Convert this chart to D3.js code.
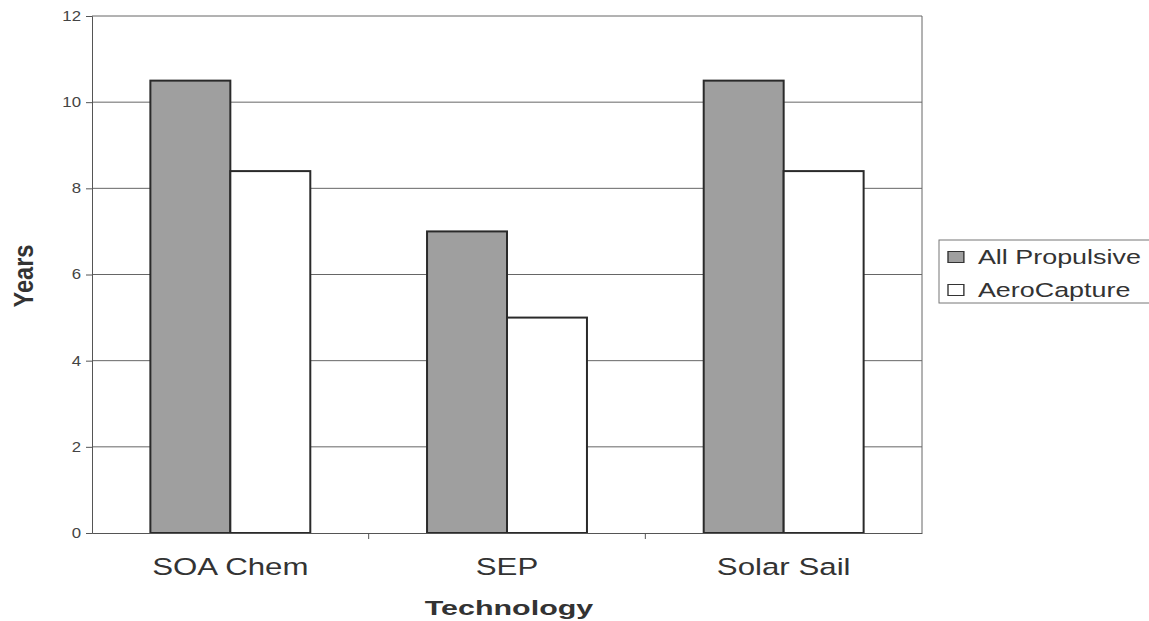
<!DOCTYPE html>
<html>
<head>
<meta charset="utf-8">
<script src="https://cdn.jsdelivr.net/npm/d3@7"></script>
<style>
  body { margin: 0; background: #fff; }
  text { font-family: "Liberation Sans", Arial, sans-serif; }
</style>
</head>
<body>
<div id="chart"></div>
<script>
const categories = ["SOA Chem", "SEP", "Solar Sail"];
const seriesNames = ["All Propulsive", "AeroCapture"];
const allPropulsive = [10.5, 7, 10.5];
const aeroCapture = [8.4, 5, 8.4];
const yTicks = [0, 2, 4, 6, 8, 10, 12];

const W = 1149, H = 621;
const plot = { left: 92, right: 922, top: 16, bottom: 533 };
const fills = ["#9f9f9f", "#ffffff"];
// the scanned original is stretched sideways, so the text is too
const stretch = 1.36;

const svg = d3.select("#chart").append("svg")
  .attr("width", W)
  .attr("height", H);

const x = d3.scaleBand()
  .domain(categories)
  .range([plot.left, plot.right])
  .paddingInner(0)
  .paddingOuter(0);

const inner = d3.scaleBand()
  .domain(seriesNames)
  .range([0, x.bandwidth()])
  .paddingOuter(0.73)
  .paddingInner(0);

const y = d3.scaleLinear()
  .domain([0, 12])
  .range([plot.bottom, plot.top]);

// gridlines
svg.append("g")
  .selectAll("line")
  .data(yTicks.filter(d => d > 0))
  .enter()
  .append("line")
  .attr("x1", plot.left)
  .attr("x2", plot.right)
  .attr("y1", d => y(d))
  .attr("y2", d => y(d))
  .attr("stroke", "#666")
  .attr("stroke-width", 1);

// right border
svg.append("line")
  .attr("x1", plot.right).attr("x2", plot.right)
  .attr("y1", plot.top).attr("y2", plot.bottom)
  .attr("stroke", "#666");

// bars
const rows = categories.map((c, i) => ({ cat: c, values: [allPropulsive[i], aeroCapture[i]] }));

svg.append("g")
  .selectAll("g")
  .data(rows)
  .enter()
  .append("g")
  .attr("transform", d => `translate(${x(d.cat)},0)`)
  .selectAll("rect")
  .data(d => d.values.map((v, k) => ({ key: seriesNames[k], k, v })))
  .enter()
  .append("rect")
  .attr("x", d => inner(d.key))
  .attr("width", inner.bandwidth())
  .attr("y", d => y(d.v))
  .attr("height", d => y(0) - y(d.v))
  .attr("fill", d => fills[d.k])
  .attr("stroke", "#2a2a2a")
  .attr("stroke-width", 2);

// y axis
const yAxis = svg.append("g")
  .attr("transform", `translate(${plot.left},0)`)
  .call(d3.axisLeft(y).tickValues(yTicks).tickSize(6).tickPadding(5));
yAxis.select(".domain").attr("stroke", "#555");
yAxis.selectAll(".tick line").attr("stroke", "#555");
yAxis.selectAll("text")
  .attr("x", -11 / 1.2)
  .attr("transform", "scale(1.2,1)")
  .attr("fill", "#444")
  .style("font-size", "14px")
  .style("font-family", "Liberation Sans, Arial, sans-serif");

// x axis
const xAxis = svg.append("g")
  .attr("transform", `translate(0,${plot.bottom})`)
  .call(d3.axisBottom(x).tickSize(0));
xAxis.select(".domain").attr("stroke", "#555");
xAxis.selectAll("text")
  .attr("y", 42)
  .attr("dy", 0)
  .attr("transform", `scale(${stretch - 0.03},1)`)
  .attr("fill", "#333")
  .style("font-size", "23.5px")
  .style("font-family", "Liberation Sans, Arial, sans-serif");

// category separators
svg.append("g")
  .selectAll("line")
  .data(categories.slice(1))
  .enter()
  .append("line")
  .attr("x1", d => x(d)).attr("x2", d => x(d))
  .attr("y1", plot.bottom).attr("y2", plot.bottom + 6)
  .attr("stroke", "#555");

// axis titles
svg.append("text")
  .attr("transform", `translate(509,615) scale(1.45,1)`)
  .attr("text-anchor", "middle")
  .attr("font-weight", "bold")
  .attr("font-size", "21px")
  .attr("fill", "#333")
  .text("Technology");

svg.append("text")
  .attr("transform", `translate(33,276) scale(${stretch},1) rotate(-90)`)
  .attr("text-anchor", "middle")
  .attr("font-weight", "bold")
  .attr("font-size", "20px")
  .attr("fill", "#333")
  .attr("textLength", 63)
  .attr("lengthAdjust", "spacingAndGlyphs")
  .text("Years");

// legend
const legend = svg.append("g");
legend.append("rect")
  .attr("x", 939)
  .attr("y", 240)
  .attr("width", 215)
  .attr("height", 63)
  .attr("fill", "#fff")
  .attr("stroke", "#777");

const item = legend.selectAll("g.item")
  .data(seriesNames)
  .enter()
  .append("g")
  .attr("class", "item")
  .attr("transform", (d, i) => `translate(948,${257 + i * 33}) scale(1.38,1)`);

item.append("rect")
  .attr("x", 0)
  .attr("y", -5.5)
  .attr("width", 11.5)
  .attr("height", 11)
  .attr("fill", (d, i) => fills[i])
  .attr("stroke", "#333");

item.append("text")
  .attr("x", 21.7)
  .attr("y", 0)
  .attr("dy", "0.36em")
  .attr("font-size", "19.5px")
  .attr("fill", "#333")
  .text(d => d);
</script>
</body>
</html>
